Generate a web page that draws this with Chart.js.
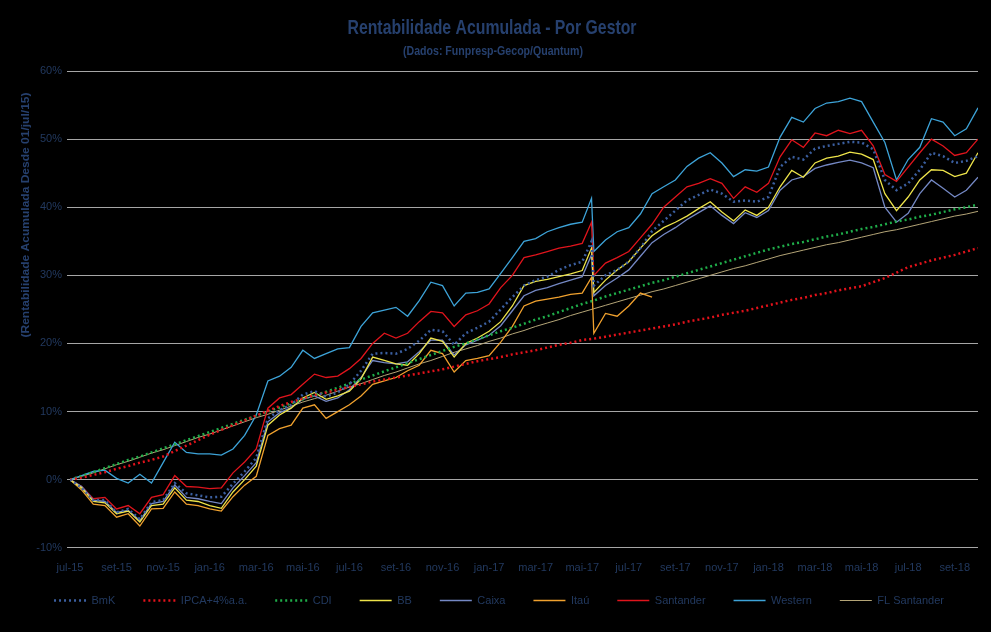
<!DOCTYPE html>
<html>
<head>
<meta charset="utf-8">
<title>Rentabilidade Acumulada - Por Gestor</title>
<script src="https://cdn.jsdelivr.net/npm/chart.js@4.4.0/dist/chart.umd.min.js"></script>
<style>
  html, body { margin: 0; padding: 0; background: #000; }
  canvas { display: block; }
</style>
</head>
<body>
<canvas id="gestorChart" width="991" height="632"></canvas>
<script>
// Eixo X: meses desde 01/jul/15 (quinzenal + dois pontos extras no choque de mai-17)
const meses = [0, 0.5, 1, 1.5, 2, 2.5, 3, 3.5, 4, 4.5, 5, 5.5, 6, 6.5, 7, 7.5, 8, 8.5, 9, 9.5,
  10, 10.5, 11, 11.5, 12, 12.5, 13, 13.5, 14, 14.5, 15, 15.5, 16, 16.5, 17, 17.5, 18, 18.5, 19, 19.5,
  20, 20.5, 21, 21.5, 22, 22.4, 22.5, 23, 23.5, 24, 24.5, 25, 25.5, 26, 26.5, 27, 27.5, 28, 28.5, 29, 29.5,
  30, 30.5, 31, 31.5, 32, 32.5, 33, 33.5, 34, 34.5, 35, 35.5, 36, 36.5, 37, 37.5, 38, 38.5, 39];

const rotulosX = ['jul-15', 'set-15', 'nov-15', 'jan-16', 'mar-16', 'mai-16', 'jul-16', 'set-16', 'nov-16', 'jan-17',
  'mar-17', 'mai-17', 'jul-17', 'set-17', 'nov-17', 'jan-18', 'mar-18', 'mai-18', 'jul-18', 'set-18'];

// Rentabilidade acumulada (%)
const bmk = [0, -1.2, -3.0, -3.0, -4.8, -4.3, -5.8, -3.3, -3.0, -0.5, -2.0, -2.3, -2.6, -2.5, -0.6, 1.2, 3.2, 9.0, 10.2, 11.0,
  12.5, 13.0, 12.2, 12.8, 14.0, 16.0, 18.5, 18.6, 18.5, 19.2, 20.4, 22.0, 21.8, 19.8, 21.5, 22.3, 23.2, 25.0, 26.8, 28.5,
  29.3, 29.8, 30.8, 31.5, 32.0, 35.0, 28.5,
  30.0, 30.8, 32.0, 34.0, 36.5, 38.0, 39.5, 41.0, 41.8, 42.6, 42.0, 40.8, 41.0, 40.8, 41.5, 45.9, 47.4, 47.0, 48.6, 49.0,
  49.3, 49.6, 49.5, 48.5, 44.0, 42.5, 43.5, 45.5, 48.0, 47.5, 46.5, 46.8, 47.5];

const ipca4 = [0, 0.3, 0.7, 1.1, 1.6, 2.0, 2.5, 2.9, 3.4, 4.2, 5.0, 5.8, 6.6, 7.3, 8.0, 8.7, 9.4, 10.1, 10.8, 11.4,
  11.9, 12.4, 12.8, 13.2, 13.6, 14.0, 14.4, 14.7, 15.0, 15.3, 15.6, 15.9, 16.2, 16.6, 17.0, 17.4, 17.7, 18.0, 18.4, 18.7,
  19.0, 19.4, 19.8, 20.1, 20.5, null, 20.7,
  21.0, 21.3, 21.6, 21.9, 22.2, 22.5, 22.8, 23.2, 23.5, 23.8, 24.2, 24.5, 24.8, 25.2, 25.6, 26.0, 26.4, 26.7, 27.1, 27.4,
  27.8, 28.1, 28.4, 29.0, 29.6, 30.4, 31.2, 31.7, 32.2, 32.6, 33.0, 33.5, 34.0];

const cdi = [0, 0.55, 1.1, 1.7, 2.3, 2.9, 3.4, 4.0, 4.6, 5.2, 5.8, 6.4, 7.0, 7.6, 8.2, 8.8, 9.4, 10.0, 10.6, 11.2,
  11.8, 12.4, 12.9, 13.5, 14.1, 14.7, 15.3, 15.9, 16.5, 17.1, 17.7, 18.3, 18.9, 19.5, 20.0, 20.6, 21.2, 21.8, 22.3, 22.9,
  23.5, 24.0, 24.6, 25.2, 25.8, null, 26.3,
  26.9, 27.4, 27.9, 28.4, 28.9, 29.3, 29.8, 30.3, 30.8, 31.3, 31.8, 32.3, 32.8, 33.3, 33.8, 34.2, 34.6, 34.9, 35.3, 35.7,
  36.0, 36.4, 36.8, 37.1, 37.5, 37.9, 38.2, 38.6, 38.9, 39.3, 39.7, 40.0, 40.4];

const bb = [0, -1.2, -3.2, -3.4, -5.0, -4.6, -6.2, -3.8, -3.6, -1.2, -3.0, -3.2, -3.8, -4.2, -1.8, 0.0, 2.0, 8.0, 9.5, 10.5,
  12.0, 12.8, 11.8, 12.3, 13.0, 14.8, 18.0, 17.5, 17.0, 16.8, 18.5, 20.8, 20.3, 18.0, 20.0, 20.8, 21.8, 23.2, 25.5, 28.5,
  29.1, 29.4, 29.8, 30.2, 30.7, 34.0, 27.5,
  29.3, 30.8, 32.0, 34.0, 35.8, 37.0, 37.8, 38.7, 39.8, 40.8, 39.3, 38.0, 39.6, 38.8, 40.0, 43.0, 45.4, 44.4, 46.5, 47.2,
  47.5, 48.1, 47.8, 47.0, 42.0, 39.5, 41.5, 44.0, 45.5, 45.4, 44.5, 45.0, 48.0];

const caixa = [0, -1.0, -3.0, -3.2, -4.8, -4.5, -6.0, -3.5, -3.2, -0.8, -2.6, -2.8, -3.2, -3.5, -1.2, 0.6, 2.5, 8.5, 9.8, 10.6,
  11.8, 12.3, 11.5, 12.0, 13.2, 15.0, 17.5, 17.2, 17.0, 17.3, 18.8, 20.5, 20.5, 18.3, 19.8, 20.5, 21.2, 22.6, 24.8, 27.0,
  27.8, 28.2, 28.8, 29.3, 29.8, 33.0, 27.0,
  28.5, 29.6, 30.8, 32.8, 34.8, 36.0, 37.0, 38.2, 39.2, 40.2, 38.8, 37.6, 39.2, 38.5, 39.5, 42.5, 44.0, 44.5, 45.7, 46.2,
  46.6, 46.9, 46.5, 45.8, 40.0, 37.8, 39.1, 42.0, 44.0, 42.8, 41.5, 42.5, 44.4];

const itau = [0, -1.5, -3.6, -3.8, -5.5, -5.0, -6.8, -4.3, -4.2, -1.8, -3.6, -3.8, -4.3, -4.6, -2.5, -0.8, 0.5, 6.5, 7.5, 8.0,
  10.5, 11.0, 9.0, 10.0, 11.0, 12.3, 14.0, 14.5, 15.0, 16.0, 16.8, 19.0, 18.5, 15.8, 17.5, 17.8, 18.2, 20.2, 22.5, 25.5,
  26.2, 26.5, 26.8, 27.2, 27.4, 29.7, 21.5,
  24.4, 24.0, 25.5, 27.4, 26.8, null, null, null, null, null, null, null, null, null, null, null, null, null, null, null,
  null, null, null, null, null, null, null, null, null, null, null, null, null];

const santander = [0, -1.0, -2.8, -2.6, -4.3, -3.8, -5.0, -2.6, -2.2, 0.6, -1.0, -1.1, -1.3, -1.2, 1.0, 2.6, 4.5, 10.5, 12.0, 12.5,
  14.0, 15.5, 15.0, 15.2, 16.3, 17.8, 20.0, 21.5, 20.8, 21.5, 23.2, 24.7, 24.5, 22.5, 24.2, 24.8, 25.8, 28.2, 30.0, 32.6,
  33.0, 33.5, 34.0, 34.3, 34.7, 37.8, 30.0,
  31.8, 32.6, 33.5, 35.5, 37.5, 40.0, 41.5, 43.0, 43.5, 44.2, 43.5, 41.3, 43.0, 42.2, 43.5, 47.4, 49.9, 48.8, 50.9, 50.5,
  51.3, 50.8, 51.3, 49.0, 44.8, 43.8, 45.9, 48.0, 50.0, 49.0, 47.6, 48.0, 50.0];

const western = [0, 0.6, 1.2, 1.4, 0.2, -0.5, 0.8, -0.5, 2.5, 5.5, 4.0, 3.8, 3.8, 3.6, 4.5, 6.5, 9.5, 14.5, 15.2, 16.5,
  19.0, 17.8, 18.5, 19.2, 19.4, 22.5, 24.5, 24.9, 25.3, 24.0, 26.3, 29.0, 28.5, 25.5, 27.4, 27.5, 28.0, 30.3, 32.6, 35.0,
  35.4, 36.4, 37.0, 37.5, 37.8, 41.3, 33.5,
  35.2, 36.4, 37.0, 39.0, 42.0, 43.0, 44.0, 46.0, 47.2, 48.0, 46.5, 44.5, 45.5, 45.3, 45.9, 50.3, 53.2, 52.5, 54.5, 55.3,
  55.5, 56.0, 55.5, 52.5, 49.5, 44.0, 47.0, 48.8, 53.0, 52.5, 50.5, 51.5, 54.6];

const flSantander = [0, 0.5, 1.0, 1.6, 2.2, 2.7, 3.3, 3.9, 4.4, 5.0, 5.6, 6.2, 6.7, 7.3, 7.9, 8.5, 9.1, 9.6, 10.2, 10.8,
  11.4, 11.9, 12.4, 13.0, 13.6, 14.1, 14.7, 15.3, 15.8, 16.4, 17.0, 17.5, 18.1, 18.7, 19.2, 19.7, 20.3, 20.8, 21.4, 21.9,
  22.5, 23.0, 23.5, 24.1, 24.6, null, 25.1,
  25.6, 26.1, 26.6, 27.1, 27.6, 28.0, 28.5, 29.0, 29.5, 30.0, 30.5, 31.0, 31.4, 31.9, 32.4, 32.9, 33.3, 33.7, 34.1, 34.5,
  34.8, 35.2, 35.6, 36.0, 36.4, 36.7, 37.1, 37.5, 37.9, 38.3, 38.7, 39.0, 39.4];

const FONTE = "'Liberation Sans', Arial, sans-serif";
const COR_TEXTO = '#22395f';
const COR_TITULO = '#26406e';
const COR_GRADE = '#a6a6a6';

function pontos(serie) {
  return serie.map((v, i) => ({ x: meses[i], y: v }));
}

// Texto "estreito" (como Arial Narrow): escala horizontal até a largura desejada
function textoEstreito(c, texto, x, y, fonte, largura, rotacao) {
  c.save();
  c.font = fonte;
  c.fillStyle = COR_TITULO;
  c.textAlign = 'center';
  c.textBaseline = 'middle';
  c.translate(x, y);
  if (rotacao) c.rotate(rotacao);
  c.scale(largura / c.measureText(texto).width, 1);
  c.fillText(texto, 0, 0);
  c.restore();
}

const titulos = {
  id: 'titulos',
  afterLayout(chart) {
    // sobe um pouco a legenda, mais perto dos rótulos do eixo X
    chart.legend.top -= 14;
    chart.legend.bottom -= 14;
  },
  afterDraw(chart) {
    const c = chart.ctx;
    textoEstreito(c, 'Rentabilidade Acumulada - Por Gestor', 492, 28, 'bold 21px ' + FONTE, 289);
    textoEstreito(c, '(Dados: Funpresp-Gecop/Quantum)', 493, 52, 'bold 12px ' + FONTE, 180);
    textoEstreito(c, '(Rentabilidade Acumulada Desde 01/jul/15)', 26, 215, 'bold 10px ' + FONTE, 245, -Math.PI / 2);
  }
};

const ctx = document.getElementById('gestorChart').getContext('2d');
const gestorChart = new Chart(ctx, {
  type: 'line',
  data: {
    datasets: [
      { label: 'BmK', data: pontos(bmk), borderColor: '#3b5fa0', borderWidth: 2.5, borderDash: [2, 3] },
      { label: 'IPCA+4%a.a.', data: pontos(ipca4), borderColor: '#e3121b', borderWidth: 2.5, borderDash: [2, 3] },
      { label: 'CDI', data: pontos(cdi), borderColor: '#1fae4a', borderWidth: 2.5, borderDash: [2, 3] },
      { label: 'BB', data: pontos(bb), borderColor: '#eee44a', borderWidth: 1.3 },
      { label: 'Caixa', data: pontos(caixa), borderColor: '#7488c4', borderWidth: 1.3 },
      { label: 'Itaú', data: pontos(itau), borderColor: '#f0a12e', borderWidth: 1.3 },
      { label: 'Santander', data: pontos(santander), borderColor: '#e0141c', borderWidth: 1.3 },
      { label: 'Western', data: pontos(western), borderColor: '#3da3d8', borderWidth: 1.3 },
      { label: 'FL Santander', data: pontos(flSantander), borderColor: '#b4a577', borderWidth: 1 }
    ]
  },
  options: {
    responsive: false,
    animation: false,
    spanGaps: true,
    elements: {
      point: { radius: 0 },
      line: { tension: 0, fill: false }
    },
    layout: { padding: { left: 20, right: 13, top: 71, bottom: 2 } },
    scales: {
      x: {
        type: 'linear',
        min: 0,
        max: 39,
        grid: { display: false },
        border: { display: false },
        ticks: {
          stepSize: 2,
          includeBounds: false,
          autoSkip: false,
          maxRotation: 0,
          padding: 6,
          color: COR_TEXTO,
          font: { family: FONTE, size: 11 },
          callback: function(value) {
            return rotulosX[value / 2];
          }
        }
      },
      y: {
        min: -10,
        max: 60,
        afterFit: function(scale) { scale.width = 50; },
        grid: { color: COR_GRADE, lineWidth: 1, tickLength: 3 },
        border: { display: false },
        ticks: {
          stepSize: 10,
          padding: 5,
          color: COR_TEXTO,
          font: { family: FONTE, size: 11 },
          callback: function(value) {
            return value + '%';
          }
        }
      }
    },
    plugins: {
      title: { display: false },
      legend: {
        position: 'bottom',
        labels: {
          usePointStyle: true,
          pointStyle: 'line',
          pointStyleWidth: 32,
          padding: 28,
          color: COR_TEXTO,
          font: { family: FONTE, size: 11 },
          generateLabels: function(chart) {
            const itens = Chart.defaults.plugins.legend.labels.generateLabels(chart);
            itens.forEach(function(item) {
              const ds = chart.data.datasets[item.datasetIndex];
              item.lineDash = ds.borderDash || [];
              item.lineWidth = ds.borderWidth;
              item.strokeStyle = ds.borderColor;
            });
            return itens;
          }
        }
      },
      tooltip: { enabled: false }
    }
  },
  plugins: [titulos]
});
</script>
</body>
</html>
